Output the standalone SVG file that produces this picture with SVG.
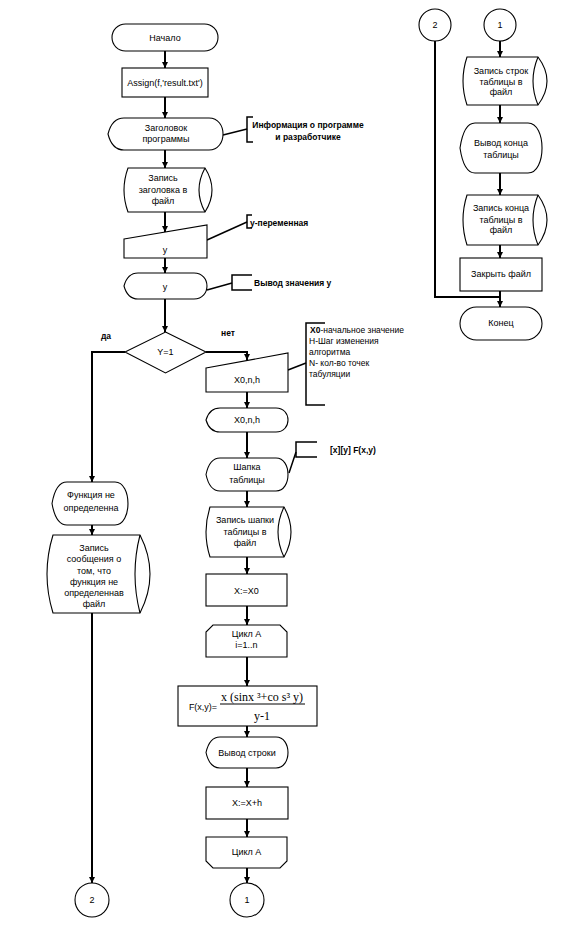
<svg xmlns="http://www.w3.org/2000/svg" width="561" height="927" viewBox="0 0 561 927">
<defs>
<marker id="ah" viewBox="0 0 10 10" refX="10" refY="5" markerWidth="6" markerHeight="6" markerUnits="userSpaceOnUse" orient="auto"><path d="M0,0 L10,5 L0,10 Z" fill="#000"/></marker>
</defs>
<style>
.s{fill:#fff;stroke:#000;stroke-width:1.1}
.t{font-family:"Liberation Sans",Arial,sans-serif;font-size:9px;fill:#000;text-anchor:middle}
.a{font-family:"Liberation Sans",Arial,sans-serif;font-size:8.5px;fill:#000;font-weight:bold}
.an{font-family:"Liberation Sans",Arial,sans-serif;font-size:8.5px;fill:#000}
.c{fill:none;stroke:#000;stroke-width:2}
.ca{fill:none;stroke:#000;stroke-width:2;marker-end:url(#ah)}
.al{fill:none;stroke:#000;stroke-width:1.5}
.f{font-family:"Liberation Serif","Times New Roman",serif;font-size:12px;fill:#000;text-anchor:middle}
</style>
<rect width="561" height="927" fill="#fff"/>

<g id="connectors">
<line class="ca" x1="165" y1="51" x2="165" y2="68"/>
<line class="ca" x1="165" y1="97" x2="165" y2="118"/>
<line class="ca" x1="165" y1="150" x2="165" y2="168"/>
<line class="ca" x1="165" y1="212" x2="165" y2="232"/>
<line class="ca" x1="165" y1="258" x2="165" y2="273"/>
<line class="ca" x1="165" y1="299" x2="165" y2="332"/>
<polyline class="ca" points="125,352 92,352 92,482"/>
<polyline class="ca" points="206,352 247,352 247,360"/>
<line class="ca" x1="247" y1="392" x2="247" y2="408"/>
<line class="ca" x1="247" y1="432" x2="247" y2="458"/>
<line class="ca" x1="247" y1="491" x2="247" y2="507"/>
<line class="ca" x1="247" y1="557" x2="247" y2="574"/>
<line class="ca" x1="247" y1="606" x2="247" y2="625"/>
<line class="ca" x1="247" y1="657" x2="247" y2="686"/>
<line class="ca" x1="247" y1="726" x2="247" y2="737"/>
<line class="ca" x1="247" y1="768" x2="247" y2="787"/>
<line class="ca" x1="247" y1="819" x2="247" y2="837"/>
<line class="ca" x1="247" y1="868" x2="247" y2="883"/>
<line class="ca" x1="92" y1="525" x2="92" y2="535"/>
<line class="ca" x1="92" y1="613" x2="92" y2="883"/>
<line class="ca" x1="500" y1="41" x2="500" y2="57"/>
<line class="ca" x1="500" y1="105" x2="500" y2="123"/>
<line class="ca" x1="500" y1="173" x2="500" y2="195"/>
<line class="ca" x1="500" y1="245" x2="500" y2="258"/>
<line class="ca" x1="500" y1="291" x2="500" y2="307"/>
<polyline class="c" points="435,41 435,297 500,297"/>
<!-- annotation leaders -->
<line class="al" x1="223" y1="135" x2="247" y2="129"/>
<path class="al" d="M253,117 L247,117 L247,142 L253,142"/>
<line class="al" x1="207" y1="240" x2="247" y2="222"/>
<path class="al" d="M252,215 L247,215 L247,228 L252,228"/>
<line class="al" x1="207" y1="290" x2="232" y2="283"/>
<path class="al" d="M252,275 L232,275 L232,290 L252,290"/>
<line class="al" x1="288" y1="370" x2="306" y2="363"/>
<path class="al" d="M325,323 L306,323 L306,405 L325,405"/>
<line class="al" x1="289" y1="473" x2="296" y2="452"/>
<path class="al" d="M317,442 L296,442 L296,457 L317,457"/>
</g>

<g id="start">
<rect class="s" x="112" y="24" width="106" height="27" rx="13.5"/>
<text class="t" x="165" y="41">Начало</text>
</g>
<g id="assign">
<rect class="s" x="122" y="68" width="86" height="29"/>
<text class="t" x="165" y="86">Assign(f,'result.txt')</text>
</g>
<g id="header">
<path class="s" d="M124,118 L209,118 C227.7,118 227.7,150 209,150 L124,150 Q112,150 108,134 Q112,118 124,118 Z"/>
<text class="t" x="166" y="131">Заголовок</text>
<text class="t" x="166" y="142">программы</text>
</g>
<g id="note-info">
<text class="a" x="308" y="128" text-anchor="middle">Информация о программе</text>
<text class="a" x="308" y="140" text-anchor="middle">и разработчике</text>
</g>
<g id="write-header">
<path class="s" d="M128,168 L205,168 Q219,190 205,212 L128,212 Q120,190 128,168 Z"/>
<path class="s" fill="none" d="M205,168 Q193,190 205,212"/>
<text class="t" x="163" y="181">Запись</text>
<text class="t" x="163" y="193">заголовка в</text>
<text class="t" x="163" y="204">файл</text>
</g>
<g id="input-y">
<path class="s" d="M124,239 L207,225 L207,258 L124,258 Z"/>
<text class="t" x="165" y="253">y</text>
</g>
<g id="note-y">
<text class="a" x="250" y="226">y-переменная</text>
</g>
<g id="display-y">
<path class="s" d="M138,273 L194,273 C211.3,273 211.3,299 194,299 L138,299 Q127.5,299 124,286 Q127.5,273 138,273 Z"/>
<text class="t" x="165" y="290">y</text>
</g>
<g id="note-display-y">
<text class="a" x="254" y="286">Вывод значения у</text>
</g>
<g id="decision">
<polygon class="s" points="165.5,332 206,352 165.5,373 125,352"/>
<text class="t" x="165.5" y="355">Y=1</text>
<text class="a" x="106" y="339" text-anchor="middle" font-size="8">да</text>
<text class="a" x="228" y="336" text-anchor="middle" font-size="8">нет</text>
</g>
<g id="input-x0">
<path class="s" d="M206,368 L288,353 L288,392 L206,392 Z"/>
<text class="t" x="247" y="383">X0,n,h</text>
</g>
<g id="note-x0">
<text class="an" x="310" y="333"><tspan font-weight="bold"> X0</tspan>-начальное значение</text>
<text class="an" x="309" y="344">H-Шаг изменения</text>
<text class="an" x="309" y="355">алгоритма</text>
<text class="an" x="309" y="366">N- кол-во точек</text>
<text class="an" x="309" y="377">табуляции</text>
</g>
<g id="display-x0">
<path class="s" d="M220,408 L276,408 C292,408 292,432 276,432 L220,432 Q209.5,432 206,420 Q209.5,408 220,408 Z"/>
<text class="t" x="247" y="423">X0,n,h</text>
</g>
<g id="table-head">
<path class="s" d="M220,458 L276,458 C292,458 292,491 276,491 L220,491 Q209.5,491 206,474.5 Q209.5,458 220,458 Z"/>
<text class="t" x="247" y="470">Шапка</text>
<text class="t" x="247" y="483">таблицы</text>
</g>
<g id="note-head">
<text class="a" x="330" y="453">[x][y] F(x,y)</text>
</g>
<g id="write-head">
<path class="s" d="M210,507 L284,507 Q298,532 284,557 L210,557 Q202,532 210,507 Z"/>
<path class="s" fill="none" d="M284,507 Q272,532 284,557"/>
<text class="t" x="245" y="523">Запись шапки</text>
<text class="t" x="245" y="535">таблицы в</text>
<text class="t" x="245" y="546">файл</text>
</g>
<g id="assign-x">
<rect class="s" x="206" y="574" width="81" height="32"/>
<text class="t" x="246.5" y="594">X:=X0</text>
</g>
<g id="loop-start">
<path class="s" d="M213,625 L280,625 L287,632 L287,657 L206,657 L206,632 Z"/>
<text class="t" x="246.5" y="637">Цикл А</text>
<text class="t" x="246.5" y="648">i=1..n</text>
</g>
<g id="formula">
<rect class="s" x="178" y="686" width="139" height="40"/>
<text class="t" x="203" y="710" font-size="8">F(x,y)=</text>
<text class="f" x="262" y="701">x (sinx ³+co s³ y)</text>
<line x1="220" y1="704" x2="305" y2="704" stroke="#000" stroke-width="1"/>
<text class="f" x="262" y="720">y-1</text>
</g>
<g id="print-row">
<path class="s" d="M220,737 L276,737 C292,737 292,768 276,768 L220,768 Q209.5,768 206,752.5 Q209.5,737 220,737 Z"/>
<text class="t" x="247" y="756">Вывод строки</text>
</g>
<g id="increment">
<rect class="s" x="206" y="787" width="82" height="32"/>
<text class="t" x="247" y="806">X:=X+h</text>
</g>
<g id="loop-end">
<path class="s" d="M206,837 L287,837 L287,861 L280,868 L213,868 L206,861 Z"/>
<text class="t" x="246.5" y="855">Цикл А</text>
</g>
<g id="conn1-out">
<circle class="s" cx="247" cy="900" r="17"/>
<text class="t" x="247" y="903">1</text>
</g>
<g id="undefined">
<path class="s" d="M67,482 L115,482 C132.3,482 132.3,525 115,525 L67,525 Q55.75,525 52,503.5 Q55.75,482 67,482 Z"/>
<text class="t" x="91" y="498">Функция не</text>
<text class="t" x="91" y="511">определенна</text>
</g>
<g id="write-msg">
<path class="s" d="M53,535 L140,535 Q160,574 140,613 L53,613 Q41,574 53,535 Z"/>
<path class="s" fill="none" d="M140,535 Q130,574 140,613"/>
<text class="t" x="94" y="551">Запись</text>
<text class="t" x="94" y="562">сообщения о</text>
<text class="t" x="94" y="574">том, что</text>
<text class="t" x="94" y="585">функция не</text>
<text class="t" x="94" y="596">определеннав</text>
<text class="t" x="94" y="607">файл</text>
</g>
<g id="conn2-out">
<circle class="s" cx="92" cy="900" r="17"/>
<text class="t" x="92" y="903">2</text>
</g>
<g id="conn2-in">
<circle class="s" cx="435" cy="25" r="16"/>
<text class="t" x="435" y="28">2</text>
</g>
<g id="conn1-in">
<circle class="s" cx="500" cy="25" r="16"/>
<text class="t" x="500" y="28">1</text>
</g>
<g id="write-rows">
<path class="s" d="M467,57 L538,57 Q556,81 538,105 L467,105 Q459,81 467,57 Z"/>
<path class="s" fill="none" d="M538,57 Q528,81 538,105"/>
<text class="t" x="501" y="74">Запись строк</text>
<text class="t" x="501" y="85">таблицы в</text>
<text class="t" x="501" y="95">файл</text>
</g>
<g id="print-end">
<path class="s" d="M475,123 L528,123 C546.7,123 546.7,173 528,173 L475,173 Q463.75,173 460,148 Q463.75,123 475,123 Z"/>
<text class="t" x="501" y="146">Вывод конца</text>
<text class="t" x="501" y="158">таблицы</text>
</g>
<g id="write-end">
<path class="s" d="M467,195 L538,195 Q556,220 538,245 L467,245 Q459,220 467,195 Z"/>
<path class="s" fill="none" d="M538,195 Q528,220 538,245"/>
<text class="t" x="501" y="211">Запись конца</text>
<text class="t" x="501" y="223">таблицы в</text>
<text class="t" x="501" y="233">файл</text>
</g>
<g id="close-file">
<rect class="s" x="460" y="258" width="82" height="33"/>
<text class="t" x="501" y="277">Закрыть файл</text>
</g>
<g id="end">
<rect class="s" x="460" y="307" width="82" height="33" rx="16.5"/>
<text class="t" x="501" y="326">Конец</text>
</g>
</svg>
